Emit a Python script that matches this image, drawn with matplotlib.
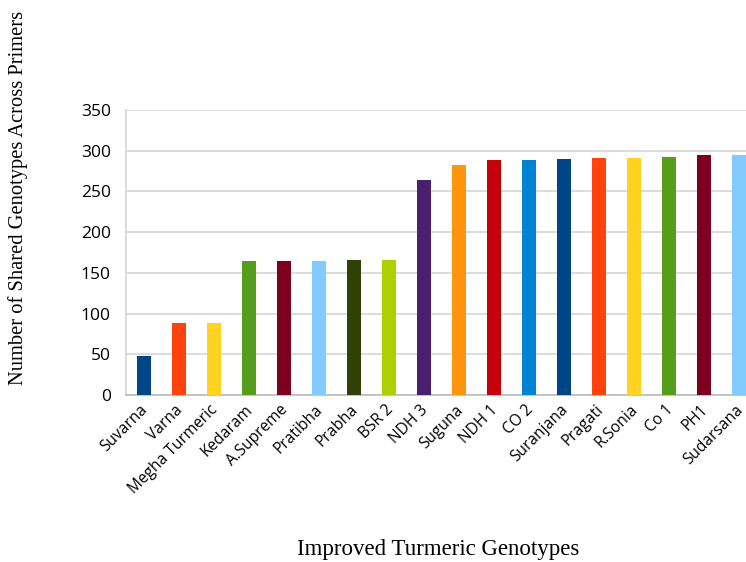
import matplotlib
matplotlib.use("Agg")
import matplotlib.pyplot as plt
import matplotlib.transforms as mtransforms

genotypes = ["Suvarna", "Varna", "Megha Turmeric", "Kedaram", "A.Supreme",
             "Pratibha", "Prabha", "BSR 2", "NDH 3", "Suguna", "NDH 1", "CO 2",
             "Suranjana", "Pragati", "R.Sonia", "Co 1", "PH1", "Sudarsana"]
shared = [48, 88, 88, 164, 164, 164, 166, 166, 264, 283, 288, 288,
          290, 291, 291, 292, 295, 295]
colors = ["#004586", "#ff420e", "#ffd320", "#579d1c", "#7e0021", "#83caff",
          "#314004", "#aecf00", "#4b1f6f", "#ff950e", "#c5000b", "#0084d1",
          "#004586", "#ff420e", "#ffd320", "#579d1c", "#7e0021", "#83caff"]
yticks = [0, 50, 100, 150, 200, 250, 300, 350]

fig = plt.figure(figsize=(7.46, 5.62), dpi=100)
ax = fig.add_axes([126 / 746, 1 - 395 / 562, 630 / 746, 285 / 562])

x = list(range(len(genotypes)))
ax.bar(x, shared, width=0.4, color=colors, zorder=3)

ax.set_xlim(-0.5, len(genotypes) - 0.5)
ax.set_ylim(0, 350)
ax.set_yticks(yticks)
ax.set_yticklabels([str(v) for v in yticks], fontfamily="Open Sans", fontsize=12.5)
ax.set_xticks(x)
ax.set_xticklabels(genotypes, rotation=45, ha="right", rotation_mode="anchor",
                   fontfamily="Open Sans", fontsize=11.2)
ax.tick_params(axis="y", length=0, pad=11)
ax.tick_params(axis="x", length=0, pad=5)

# nudge the slanted category labels a little to the left
shift = mtransforms.ScaledTranslation(-3.5 / 100, 0, fig.dpi_scale_trans)
for lbl in ax.get_xticklabels():
    lbl.set_transform(lbl.get_transform() + shift)

ax.grid(axis="y", color="#d9d9d9", linewidth=1.3, zorder=0)
for side in ["top", "right"]:
    ax.spines[side].set_visible(False)
ax.spines["left"].set_color("#d9d9d9")
ax.spines["left"].set_linewidth(1.3)
ax.spines["bottom"].set_color("#bfbfbf")
ax.spines["bottom"].set_linewidth(1.3)

fig.text(18 / 746, 1 - 198 / 562, "Number of Shared Genotypes Across Primers",
         rotation=90, ha="center", va="center", fontfamily="Liberation Serif",
         fontsize=14.8)
fig.text(438 / 746, 1 - 550 / 562, "Improved Turmeric Genotypes",
         ha="center", va="center", fontfamily="Liberation Serif", fontsize=16.5)

fig.savefig("out.png", dpi=100)
